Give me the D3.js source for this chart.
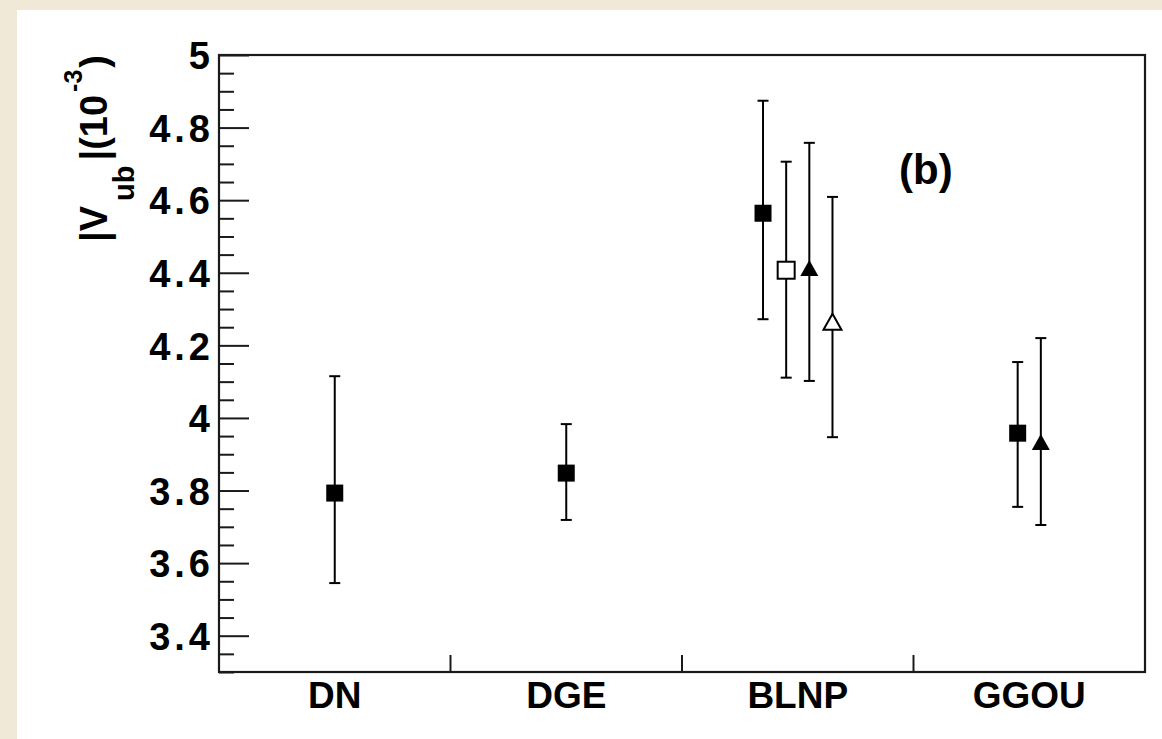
<!DOCTYPE html>
<html>
<head>
<meta charset="utf-8">
<script src="https://cdn.jsdelivr.net/npm/d3@7/dist/d3.min.js"></script>
<style>
  html, body { margin: 0; padding: 0; background: #f0e9d7; }
  svg { display: block; }
  text { font-family: "Liberation Sans", Arial, Helvetica, sans-serif; font-weight: bold; fill: #000; }
</style>
</head>
<body>
<svg id="chart" width="1162" height="739"></svg>
<script>
// Theory frameworks on the x axis
const categories = ["DN", "DGE", "BLNP", "GGOU"];

// Four measurement sets; null where a set has no entry for a framework
const setNames = ["set1", "set2", "set3", "set4"];
const set1Value = [3.793, 3.848, 4.564, 3.958];
const set1Low   = [3.545, 3.719, 4.272, 3.755];
const set1High  = [4.115, 3.983, 4.874, 4.154];
const set2Value = [null, null, 4.407, null];
const set2Low   = [null, null, 4.111, null];
const set2High  = [null, null, 4.706, null];
const set3Value = [null, null, 4.413, 3.934];
const set3Low   = [null, null, 4.102, 3.705];
const set3High  = [null, null, 4.758, 4.220];
const set4Value = [null, null, 4.265, null];
const set4Low   = [null, null, 3.947, null];
const set4High  = [null, null, 4.609, null];

// Axis ticks
const yMajorTicks = [3.4, 3.6, 3.8, 4.0, 4.2, 4.4, 4.6, 4.8, 5.0];
const yTickLabels = ["3.4", "3.6", "3.8", "4", "4.2", "4.4", "4.6", "4.8", "5"];
const yDomain = [3.3, 5.0];
const panelLabel = "(b)";

// Build point table from the arrays above
const setTable = [
  { name: setNames[0], v: set1Value, lo: set1Low, hi: set1High },
  { name: setNames[1], v: set2Value, lo: set2Low, hi: set2High },
  { name: setNames[2], v: set3Value, lo: set3Low, hi: set3High },
  { name: setNames[3], v: set4Value, lo: set4Low, hi: set4High }
];
const points = [];
categories.forEach((cat, ci) => {
  const inCat = setTable.filter(s => s.v[ci] != null);
  inCat.forEach((s, k) => {
    points.push({ cat, set: s.name, value: s.v[ci], low: s.lo[ci], high: s.hi[ci],
                  slot: k - (inCat.length - 1) / 2 });
  });
});

// Marker appearance per set
const markerStyle = {
  set1: { shape: "square", filled: true },
  set2: { shape: "square", filled: false },
  set3: { shape: "triangle", filled: true },
  set4: { shape: "triangle", filled: false }
};

const svg = d3.select("#chart");
const W = 1162, H = 739;

// white page area
svg.append("rect").attr("x", 17).attr("y", 10).attr("width", W - 17).attr("height", H - 10).attr("fill", "#fff");

const frame = { left: 219, right: 1145, top: 55, bottom: 672 };

const x = d3.scaleBand().domain(categories).range([frame.left, frame.right]).padding(0);
const y = d3.scaleLinear().domain(yDomain).range([frame.bottom, frame.top]);
const slotStep = x.bandwidth() * 0.1;

// Frame
svg.append("rect")
  .attr("x", frame.left).attr("y", frame.top)
  .attr("width", frame.right - frame.left).attr("height", frame.bottom - frame.top)
  .attr("fill", "none").attr("stroke", "#1a1a1a").attr("stroke-width", 2.2);

// Y axis: major ticks with labels, pointing inward
const yAxis = d3.axisLeft(y)
  .tickValues(yMajorTicks)
  .tickFormat((d, i) => yTickLabels[i])
  .tickSizeInner(-30).tickSizeOuter(0).tickPadding(5);
const gy = svg.append("g").attr("transform", `translate(${frame.left},0)`).call(yAxis);
gy.select(".domain").remove();
gy.selectAll(".tick line").attr("stroke", "#1a1a1a").attr("stroke-width", 2);
gy.selectAll(".tick text").style("font-size", "38px").style("letter-spacing", "4px").attr("dy", "0.36em");

// Y axis: minor ticks every 0.05
const yMinor = d3.range(Math.round(yDomain[0] * 20), Math.round(yDomain[1] * 20) + 1)
  .map(v => v / 20)
  .filter(v => !yMajorTicks.some(m => Math.abs(m - v) < 1e-9));
const gyMinor = svg.append("g").attr("transform", `translate(${frame.left},0)`)
  .call(d3.axisLeft(y).tickValues(yMinor).tickSizeInner(-15).tickSizeOuter(0).tickFormat(""));
gyMinor.select(".domain").remove();
gyMinor.selectAll(".tick line").attr("stroke", "#1a1a1a").attr("stroke-width", 2);

// X axis: labels at band centres
const gx = svg.append("g").attr("transform", `translate(0,${frame.bottom})`)
  .call(d3.axisBottom(x).tickSize(0).tickPadding(10));
gx.select(".domain").remove();
gx.selectAll(".tick text").style("font-size", "37px").attr("dy", "0.71em");

// X axis: division ticks between frameworks, pointing up
svg.append("g").selectAll("line")
  .data(categories.slice(0, -1))
  .join("line")
  .attr("x1", d => x(d) + x.bandwidth()).attr("x2", d => x(d) + x.bandwidth())
  .attr("y1", frame.bottom).attr("y2", frame.bottom - 17)
  .attr("stroke", "#1a1a1a").attr("stroke-width", 2);

// Y axis title |V_ub|(10^-3)
const title = svg.append("text")
  .attr("transform", `translate(107,${frame.top}) rotate(-90)`)
  .attr("text-anchor", "end")
  .style("font-size", "38px");
title.append("tspan").text("|V");
title.append("tspan").attr("dy", 27).attr("dx", 5).style("font-size", "29px").text("ub");
title.append("tspan").attr("dy", -27).attr("dx", 5).text("|(10");
title.append("tspan").attr("dy", -25).attr("dx", 3).style("font-size", "25px").text("-3");
title.append("tspan").attr("dy", 25).attr("dx", 2).text(")");

// Panel label
svg.append("text").attr("x", 899).attr("y", 184).style("font-size", "42px").text(panelLabel);

// Error bars
const capHalf = 5.5;
const px = d => x(d.cat) + x.bandwidth() / 2 + d.slot * slotStep;
const bars = svg.append("g").attr("stroke", "#000").attr("stroke-width", 2);
points.forEach(d => {
  const cx = px(d);
  bars.append("line").attr("x1", cx).attr("x2", cx).attr("y1", y(d.low)).attr("y2", y(d.high));
  bars.append("line").attr("x1", cx - capHalf).attr("x2", cx + capHalf).attr("y1", y(d.high)).attr("y2", y(d.high));
  bars.append("line").attr("x1", cx - capHalf).attr("x2", cx + capHalf).attr("y1", y(d.low)).attr("y2", y(d.low));
});

// Markers
const markers = svg.append("g");
points.forEach(d => {
  const cx = px(d), cy = y(d.value);
  const st = markerStyle[d.set];
  if (st.shape === "square") {
    const s = 17;
    markers.append("rect")
      .attr("x", cx - s / 2).attr("y", cy - s / 2).attr("width", s).attr("height", s)
      .attr("fill", st.filled ? "#000" : "#fff")
      .attr("stroke", "#000").attr("stroke-width", st.filled ? 0 : 2);
  } else {
    const w = 18, h = 16;
    markers.append("path")
      .attr("d", `M${cx},${cy - h / 2}L${cx + w / 2},${cy + h / 2}L${cx - w / 2},${cy + h / 2}Z`)
      .attr("fill", st.filled ? "#000" : "#fff")
      .attr("stroke", "#000").attr("stroke-width", st.filled ? 0 : 2)
      .attr("stroke-linejoin", "miter");
  }
});
</script>
</body>
</html>
